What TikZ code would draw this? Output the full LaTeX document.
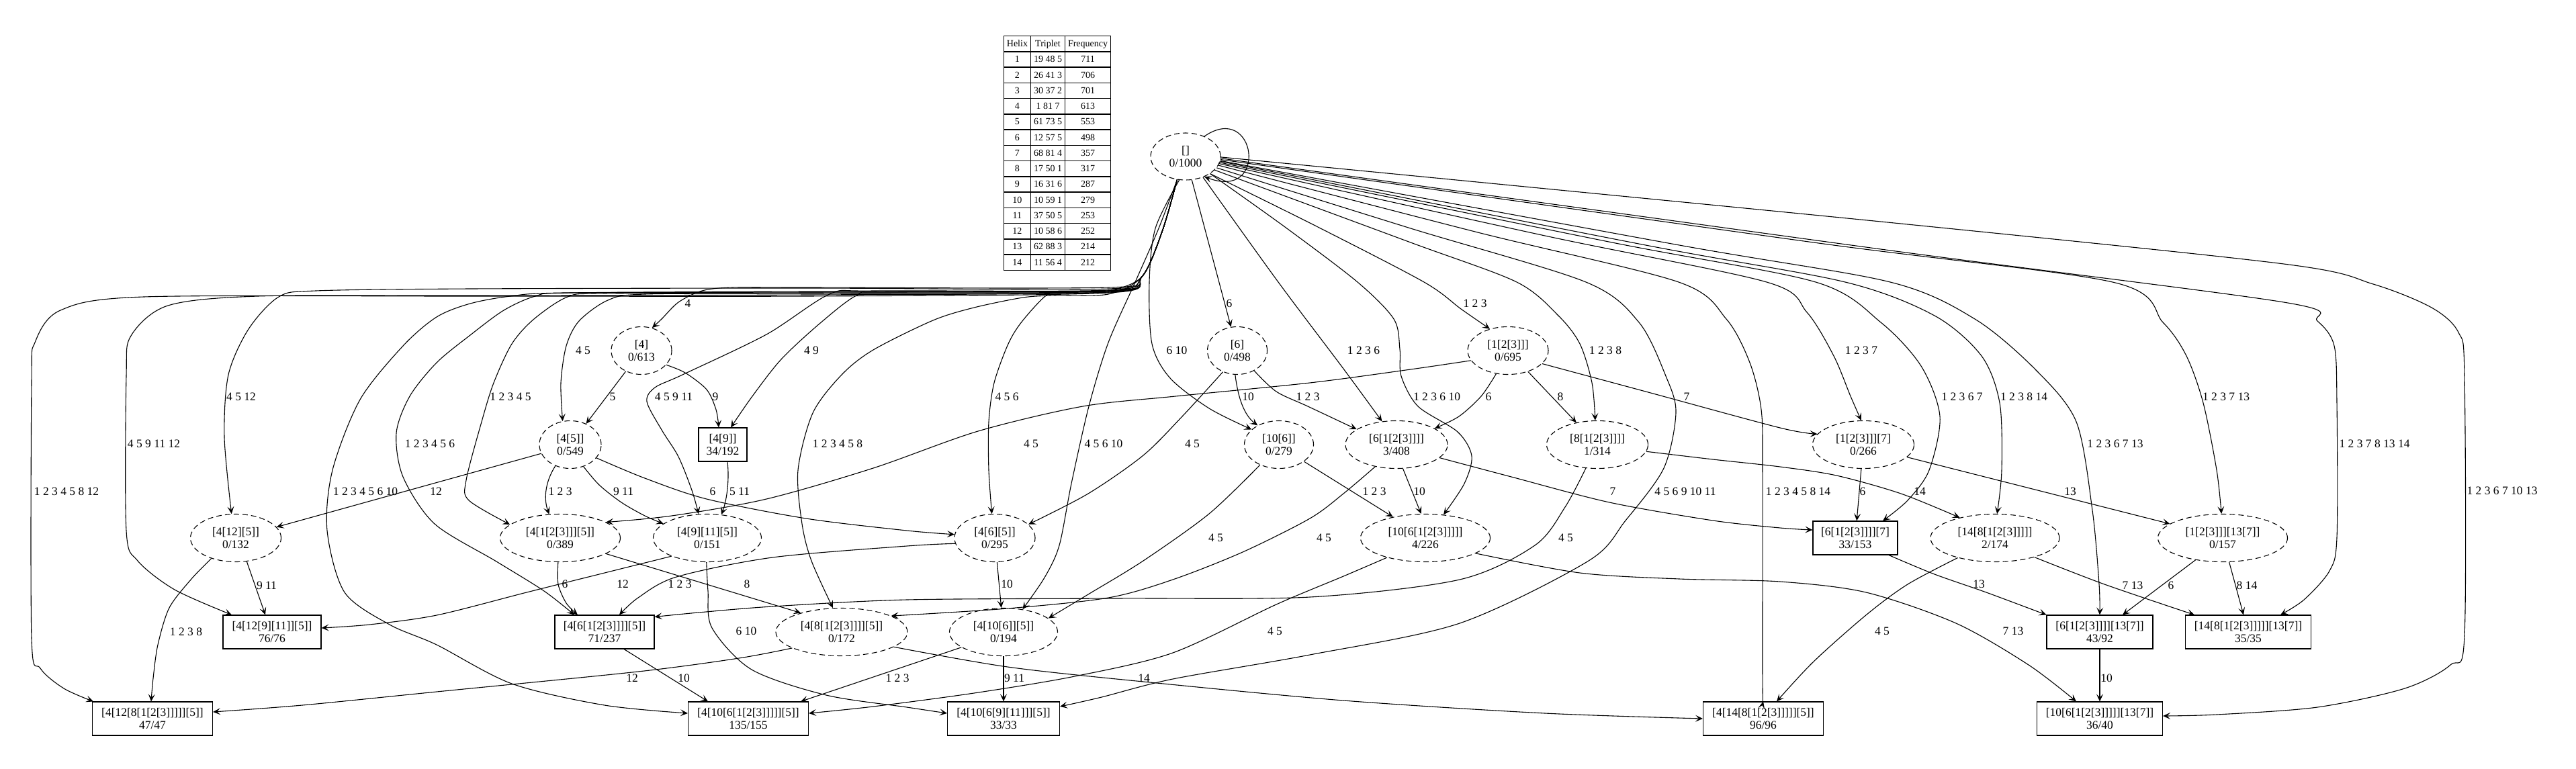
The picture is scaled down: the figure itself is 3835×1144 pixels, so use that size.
\documentclass[tikz,border=0pt]{standalone}
\usepackage{fontspec}
\setmainfont{Liberation Serif}
\usetikzlibrary{shapes.geometric,arrows.meta}

\tikzset{
  hyp/.style={ellipse,draw,line width=1.1pt,dash pattern=on 8pt off 5pt,
    minimum height=71pt,inner sep=0pt,align=center,font=\fontsize{17.5}{18.5}\selectfont},
  hit/.style={rectangle,draw,line width=1.1pt,minimum height=50pt,inner sep=0pt,
    align=center,font=\fontsize{17.5}{18.5}\selectfont},
  link/.style={line width=1.1pt,-{Stealth[length=11pt,width=10pt,inset=5pt]}},
  lbl/.style={inner sep=0pt,font=\fontsize{17.5}{18}\selectfont}
}

\begin{document}
\begin{tikzpicture}[x=1pt,y=-1pt]
\useasboundingbox (0,0) rectangle (3835,1144);

% helix table
\node[inner sep=0pt,font=\fontsize{14}{16}\selectfont] (helix) at (1574,228) {%
\setlength{\arrayrulewidth}{1.5pt}\setlength{\tabcolsep}{4.5pt}%
\renewcommand{\arraystretch}{1.36}%
\begin{tabular}{|c|c|c|}\hline
Helix & Triplet & Frequency\\\hline
1 & 19 48 5 & 711\\\hline
2 & 26 41 3 & 706\\\hline
3 & 30 37 2 & 701\\\hline
4 & 1 81 7 & 613\\\hline
5 & 61 73 5 & 553\\\hline
6 & 12 57 5 & 498\\\hline
7 & 68 81 4 & 357\\\hline
8 & 17 50 1 & 317\\\hline
9 & 16 31 6 & 287\\\hline
10 & 10 59 1 & 279\\\hline
11 & 37 50 5 & 253\\\hline
12 & 10 58 6 & 252\\\hline
13 & 62 88 3 & 214\\\hline
14 & 11 56 4 & 212\\\hline
\end{tabular}};

% states
\node[hyp,minimum width=104pt,minimum height=70pt] (r) at (1765,233) {[]\\0/1000};
\node[hyp,minimum width=90pt] (s4) at (955,522) {[4]\\0/613};
\node[hyp,minimum width=89pt] (s6) at (1842,522) {[6]\\0/498};
\node[hyp,minimum width=120pt] (s123) at (2245,522) {[1[2[3]]]\\0/695};
\node[hyp,minimum width=92pt] (s45) at (849,662) {[4[5]]\\0/549};
\node[hit,minimum width=72pt] (s49) at (1076,662) {[4[9]]\\34/192};
\node[hyp,minimum width=103pt] (s106) at (1904,662) {[10[6]]\\0/279};
\node[hyp,minimum width=152pt] (s6123) at (2079,662) {[6[1[2[3]]]]\\3/408};
\node[hyp,minimum width=151pt] (s8123) at (2378,662) {[8[1[2[3]]]]\\1/314};
\node[hyp,minimum width=151pt] (s1237) at (2774,662) {[1[2[3]]][7]\\0/266};
\node[hyp,minimum width=135pt] (s4125) at (351,801) {[4[12][5]]\\0/132};
\node[hyp,minimum width=179pt] (s41235) at (834,801) {[4[1[2[3]]][5]]\\0/389};
\node[hyp,minimum width=161pt] (s49115) at (1053,801) {[4[9][11][5]]\\0/151};
\node[hyp,minimum width=120pt] (s465) at (1481,801) {[4[6][5]]\\0/295};
\node[hyp,minimum width=193pt] (s106123) at (2122,801) {[10[6[1[2[3]]]]]\\4/226};
\node[hit,minimum width=126pt] (s61237) at (2762,801) {[6[1[2[3]]]][7]\\33/153};
\node[hyp,minimum width=192pt] (s148123) at (2970,801) {[14[8[1[2[3]]]]]\\2/174};
\node[hyp,minimum width=193pt] (s123137) at (3309,801) {[1[2[3]]][13[7]]\\0/157};
\node[hit,minimum width=146pt] (s412911) at (405,941) {[4[12[9][11]][5]]\\76/76};
\node[hit,minimum width=148pt] (s461235) at (900,941) {[4[6[1[2[3]]]][5]]\\71/237};
\node[hyp,minimum width=196pt] (s481235) at (1253,941) {[4[8[1[2[3]]]][5]]\\0/172};
\node[hyp,minimum width=161pt] (s41065) at (1494,941) {[4[10[6]][5]]\\0/194};
\node[hit,minimum width=158pt] (s6123137) at (3126,941) {[6[1[2[3]]]][13[7]]\\43/92};
\node[hit,minimum width=187pt] (s148123137) at (3347,941) {[14[8[1[2[3]]]]][13[7]]\\35/35};
\node[hit,minimum width=179pt] (s4128) at (227,1070) {[4[12[8[1[2[3]]]]][5]]\\47/47};
\node[hit,minimum width=179pt] (s4106123) at (1114,1070) {[4[10[6[1[2[3]]]]][5]]\\135/155};
\node[hit,minimum width=167pt] (s4106911) at (1494,1070) {[4[10[6[9][11]]][5]]\\33/33};
\node[hit,minimum width=179pt] (s4148) at (2625,1070) {[4[14[8[1[2[3]]]]][5]]\\96/96};
\node[hit,minimum width=187pt] (s106123137) at (3126,1070) {[10[6[1[2[3]]]]][13[7]]\\36/40};

% edges out of the root
\draw[link] (r.47) .. controls (1870,150) and (1890,300) .. (r.-47);
\draw[link] plot[smooth] coordinates {(r.250) (1730,345) (1700,412) (1650,436) (1200,441) (700,441) (214,442) (90,462) (52,510) (47,570) (47,950) (60,995) (95,1025) ([xshift=2pt]s4128.north west)};
\draw[link] plot[smooth] coordinates {(r.250) (1730,345) (1700,412) (1650,435) (1200,439) (700,440) (384,441) (250,455) (195,500) (188,560) (188,790) (205,835) (260,878) ([xshift=-60pt]s412911.north)};
\draw[link] plot[smooth] coordinates {(r.250) (1730,345) (1700,412) (1650,430) (1200,429) (700,430) (470,433) (415,442) (370,490) (340,558) (334,651) (s4125.100)};
\draw[link] plot[smooth] coordinates {(r.250) (1730,345) (1700,412) (1650,433) (1200,435) (840,436) (760,441) (700,452) (650,472) (600,515) (536,595) (495,700) (487,790) (513,882) (580,930) (650,960) (762,1018) (900,1050) ([yshift=8pt]s4106123.west)};
\draw[link] plot[smooth] coordinates {(r.250) (1730,345) (1700,412) (1650,433) (1200,434) (850,436) (797,441) (750,462) (700,499) (650,540) (610,590) (590,645) (600,710) (647,780) (739,836) (810,880) ([xshift=-45pt]s461235.north)};
\draw[link] plot[smooth] coordinates {(r.250) (1730,345) (1700,412) (1650,434) (1200,436) (900,437) (845,442) (795,475) (762,512) (735,570) (717,628) (694,715) (698,745) (s41235.165)};
\draw[link] plot[smooth] coordinates {(r.250) (1730,345) (1700,412) (1650,435) (1200,437) (960,438) (905,447) (862,478) (843,515) (835,570) (s45.108)};
\draw[link] plot[smooth] coordinates {(r.250) (1730,345) (1700,412) (1650,428) (1200,428) (1090,428) (1045,433) (1010,450) (985,475) (s4.65)};
\draw[link] plot[smooth] coordinates {(r.250) (1730,345) (1700,412) (1650,432) (1300,433) (1235,438) (1141,498) (1016,558) (975,577) (963,598) (985,640) (1010,680) (1030,730) (s49115.110)};
\draw[link] plot[smooth] coordinates {(r.250) (1730,345) (1700,412) (1650,433) (1320,434) (1275,440) (1220,482) (1163,535) (1120,590) ([xshift=12pt]s49.north)};
\draw[link] plot[smooth] coordinates {(r.250) (1730,345) (1700,412) (1650,438) (1570,440) (1523,443) (1450,458) (1389,477) (1300,521) (1253,558) (1210,615) (1188,700) (1194,780) (1208,835) (s481235.110)};
\draw[link] plot[smooth] coordinates {(r.250) (1730,345) (1700,412) (1650,433) (1590,434) (1560,438) (1522,478) (1501,512) (1480,570) (1472,628) (1472,700) (s465.97)};
\draw[link] plot[smooth] coordinates {(r.250) (1725,340) (1690,420) (1650,510) (1621,605) (1595,720) (1577,812) (1555,860) (s41065.50)};
\draw[link] plot[smooth] coordinates {(r.255) (1720,340) (1711,420) (1715,512) (1742,563) (1800,608) (s106.151)};
\draw[link] (r) -- (s6);
\draw[link] plot[smooth] coordinates {(r.-35) (1960,337) (2120,420) (2175,460) (s123.130)};
\draw[link] plot[smooth] coordinates {(r.-50) (1903,420) (2000,549) (s6123.122)};
\draw[link] plot[smooth] coordinates {(r.-35) (1913,338) (2021,420) (2075,475) (2084,520) (2086,560) (2111,605) (2170,643) (2191,679) (2180,720) (s106123.52)};
\draw[link] plot[smooth] coordinates {(r.-25) (2100,361) (2258,420) (2320,470) (2352,512) (2370,570) (s8123.95)};
\draw[link] plot[smooth] coordinates {(r.-20) (2100,340) (2361,420) (2440,480) (2480,560) (2495,614) (2477,697) (2420,775) (2365,835) (2173,928) (1950,975) (1746,1011) (1640,1038) ([yshift=18pt]s4106911.east)};
\draw[link] plot[smooth] coordinates {(r.-15) (2200,346) (2499,420) (2570,475) (2605,540) (2622,610) (2624,700) (2624,1000) (s4148.north)};
\draw[link] plot[smooth] coordinates {(r.-12) (2300,351) (2630,420) (2690,465) (2730,530) (2755,590) (s1237.95)};
\draw[link] plot[smooth] coordinates {(r.-10) (2400,361) (2703,420) (2800,480) (2860,545) (2888,620) (2872,700) (2840,745) ([xshift=41pt]s61237.north)};
\draw[link] plot[smooth] coordinates {(r.-8) (2450,365) (2747,420) (2880,470) (2950,530) (2977,600) (2980,700) (s148123.85)};
\draw[link] plot[smooth] coordinates {(r.-7) (2500,365) (2814,420) (2940,475) (3030,550) (3091,628) (3115,760) (3125,870) (s6123137.north)};
\draw[link] plot[smooth] coordinates {(r.-5) (2700,361) (3145,420) (3220,480) (3255,530) (3280,600) (3300,700) (s123137.93)};
\draw[link] plot[smooth] coordinates {(r.-3) (2800,371) (3400,450) (3450,478) (3475,515) (3479,600) (3479,800) (3468,850) (3430,893) ([xshift=48pt]s148123137.north)};
\draw[link] plot[smooth] coordinates {(r.-1) (2800,330) (3400,393) (3533,423) (3620,458) (3660,495) (3669,560) (3669,946) (3648,990) (3580,1025) (3450,1053) (3300,1064) ([yshift=4pt]s106123137.east)};

% edges between the other states
\draw[link] (s4) -- (s45);
\draw[link] plot[smooth] coordinates {(s4.-30) (1020,555) (1052,580) (1066,610) ([xshift=-6pt]s49.north)};
\draw[link] (s45.197) -- (s4125.15);
\draw[link] (s45.235) .. controls (810,720) and (810,745) .. (s41235.115);
\draw[link] plot[smooth] coordinates {(s45.-59) (892,722) (925,748) (960,768) (s49115.162)};
\draw[link] plot[smooth] coordinates {(s45.-27) (960,712) (1052,743) (1200,772) (1350,790) (s465.175)};
\draw[link] ([xshift=7pt]s49.south) .. controls (1086,715) and (1082,745) .. (s49115.59);
\draw[link] (s4125.-65) -- ([xshift=-10pt]s412911.north);
\draw[link] plot[smooth] coordinates {(s4125.-140) (285,862) (252,905) (235,960) (228,1010) ([xshift=-2pt]s4128.north)};
\draw[link] plot[smooth] coordinates {(s41235.-95) (831,870) (843,898) ([xshift=-40pt]s461235.north)};
\draw[link] (s41235.-19) -- (s481235.155);
\draw[link] plot[smooth] coordinates {(s49115.-153) (900,853) (784,882) (650,916) (550,930) ([yshift=6pt]s412911.east)};
\draw[link] plot[smooth] coordinates {(s49115.-92) (1054,880) (1060,935) (1119,997) (1230,1035) (1350,1053) ([yshift=8pt]s4106911.west)};
\draw[link] plot[smooth] coordinates {(s465.-172) (1350,813) (1150,830) (1007,859) (950,890) ([xshift=22pt]s461235.north)};
\draw[link] (s465) -- (s41065);
\draw[link] ([xshift=29pt]s461235.south) -- ([xshift=-60pt]s4106123.north);
\draw[link] plot[smooth] coordinates {(s481235.-162) (1100,980) (950,1000) (650,1030) (450,1050) ([yshift=10pt]s4128.east)};
\draw[link] plot[smooth] coordinates {(s481235.-16) (1500,993) (1702,1015) (2000,1043) (2300,1062) (s4148.west)};
\draw[link] (s41065) -- (s4106911);
\draw[link] (s41065.-160) -- ([xshift=78pt]s4106123.north);
\draw[link] (s6.-95) .. controls (1843,592) and (1852,618) .. (s106.138);
\draw[link] plot[smooth] coordinates {(s6.-50) (1900,583) (1947,605) (s6123.159)};
\draw[link] plot[smooth] coordinates {(s6.-124) (1760,620) (1702,678) (1620,735) (s465.22)};
\draw[link] plot[smooth] coordinates {(s106.-133) (1800,765) (1702,835) (1620,885) (s41065.17)};
\draw[link] (s106.-34) -- (s106123.147);
\draw[link] plot[smooth] coordinates {(s123.-117) (2205,590) (2172,620) (s6123.23)};
\draw[link] (s123) -- (s8123);
\draw[link] plot[smooth] coordinates {(s123.-21) (2450,583) (2650,637) (s1237.167)};
\draw[link] plot[smooth] coordinates {(s123.195) (2100,550) (1950,570) (1750,590) (1612,605) (1456,642) (1300,697) (1141,743) (1000,768) (s41235.19)};
\draw[link] (s6123.-75) -- (s106123.100);
\draw[link] plot[smooth] coordinates {(s6123.-17) (2250,710) (2396,748) (2550,775) (2650,786) ([yshift=12pt]s61237.west)};
\draw[link] plot[smooth] coordinates {(s6123.-134) (2000,735) (1950,772) (1850,822) (1746,863) (1650,890) (1500,906) (s481235.18)};
\draw[link] plot[smooth] coordinates {(s8123.-116) (2330,755) (2285,812) (2173,863) (1950,889) (1657,891) (1350,893) (1150,903) (1040,912) ([yshift=-3pt]s461235.north east)};
\draw[link] plot[smooth] coordinates {(s8123.-8) (2550,684) (2650,695) (2734,708) (2830,735) (s148123.150)};
\draw[link] plot[smooth] coordinates {(s106123.-153) (2000,858) (1900,900) (1746,972) (1600,1007) (1450,1032) (1300,1052) ([yshift=8pt]s4106123.east)};
\draw[link] plot[smooth] coordinates {(s106123.-17) (2352,853) (2500,862) (2650,866) (2778,882) (2912,928) (3020,990) ([xshift=-35pt]s106123137.north)};
\draw[link] (s1237) -- (s61237);
\draw[link] (s1237.-16) -- (s123137.165);
\draw[link] plot[smooth] coordinates {([xshift=50pt]s61237.south) (2880,855) (2957,882) (s6123137.north west)};
\draw[link] plot[smooth] coordinates {(s148123.-152) (2840,870) (2779,915) (2700,985) ([xshift=20pt]s4148.north)};
\draw[link] plot[smooth] coordinates {(s148123.-26) (3133,870) ([xshift=-80pt]s148123137.north)};
\draw[link] (s123137.-141) -- ([xshift=34pt]s6123137.north);
\draw[link] (s123137.-75) -- ([xshift=-7pt]s148123137.north);
\draw[link] (s6123137) -- (s106123137);

% edge labels
\foreach \x/\y/\t [count=\i] in {1024/452/4, 1830/452/6, 2196/452/1 2 3, 868/522/4 5,
  1208/522/4 9, 1752/522/6 10, 2030/522/1 2 3 6, 2390/522/1 2 3 8, 2771/522/1 2 3 7,
  359/591/4 5 12, 760/591/1 2 3 4 5, 1003/591/4 5 9 11, 1499/591/4 5 6,
  2139/591/1 2 3 6 10, 3013/591/1 2 3 8 14, 3314/591/1 2 3 7 13, 2921/591/1 2 3 6 7,
  229/661/4 5 9 11 12, 640/661/1 2 3 4 5 6, 1247/661/1 2 3 4 5 8, 1643/661/4 5 6 10,
  3149/661/1 2 3 6 7 13, 3535/661/1 2 3 7 8 13 14, 99/732/1 2 3 4 5 8 12,
  544/732/1 2 3 4 5 6 10, 2509/732/4 5 6 9 10 11, 2677/732/1 2 3 4 5 8 14,
  3725/731/1 2 3 6 7 10 13,
  912/591/5, 1065/591/9, 649/732/12, 834/732/1 2 3, 928/732/9 11, 1061/732/6,
  1101/732/5 11, 397/872/9 11, 277/941/1 2 3 8, 841/870/6, 1112/870/8, 927/870/12,
  1111/940/6 10, 1012/870/1 2 3, 1499/870/10, 1018/1010/10, 941/1010/12,
  1703/1010/14, 1510/1010/9 11, 1336/1010/1 2 3, 1858/591/10, 1947/591/1 2 3,
  1775/661/4 5, 1810/801/4 5, 2046/732/1 2 3, 2216/591/6, 2323/591/8, 2511/591/7,
  1535/661/4 5, 2113/732/10, 2401/732/7, 1971/801/4 5, 2331/801/4 5, 2858/732/14,
  1898/940/4 5, 2997/940/7 13, 2773/732/6, 3082/732/13, 2946/870/13, 2802/940/4 5,
  3175/872/7 13, 3232/872/6, 3345/872/8 14, 3136/1010/10}
  \node[lbl] (lab\i) at (\x,\y) {\t};
\end{tikzpicture}
\end{document}
